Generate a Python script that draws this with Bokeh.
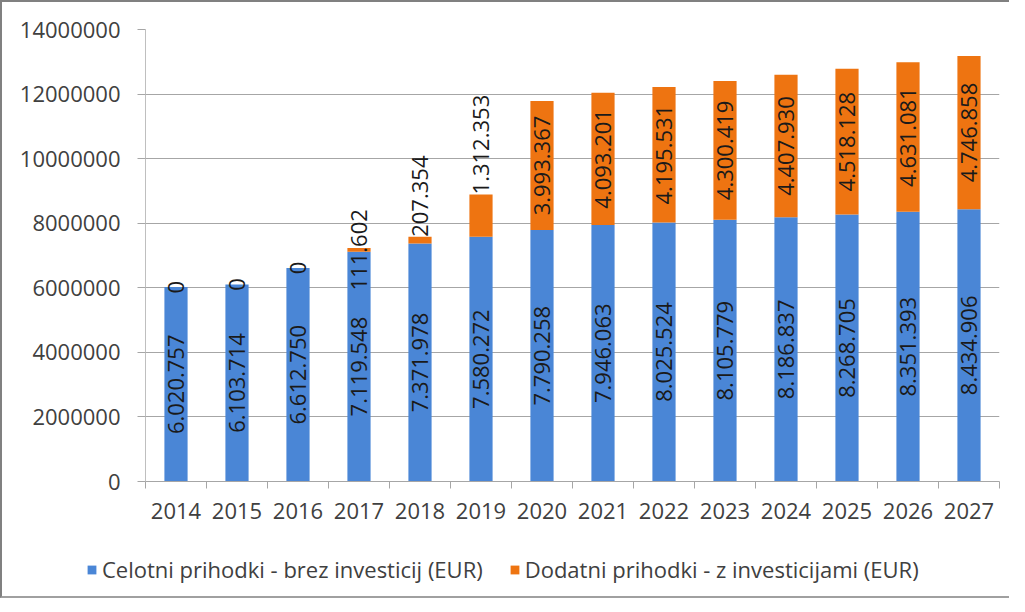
import math
from bokeh.plotting import figure
from bokeh.layouts import column
from bokeh.models import (Range1d, FixedTicker, SingleIntervalTicker, Legend, LegendItem,
                          ColumnDataSource, NumeralTickFormatter)
from bokeh.core.properties import value
from bokeh.embed import file_html
from bokeh.resources import INLINE

# ---- data ----
years = ["2014", "2015", "2016", "2017", "2018", "2019", "2020",
         "2021", "2022", "2023", "2024", "2025", "2026", "2027"]
base = [6020757, 6103714, 6612750, 7119548, 7371978, 7580272, 7790258,
        7946063, 8025524, 8105779, 8186837, 8268705, 8351393, 8434906]
extra = [0, 0, 0, 111602, 207354, 1312353, 3993367,
         4093201, 4195531, 4300419, 4407930, 4518128, 4631081, 4746858]
series_names = ["Celotni prihodki - brez investicij (EUR)",
                "Dodatni prihodki - z investicijami (EUR)"]

BLUE = "#4A86D6"
ORANGE = "#EE7411"
FONT = "Open Sans"
YMAX = 14000000

def fmt(v):
    return f"{v:,}".replace(",", ".")

xs = list(range(len(years)))
src = ColumnDataSource(dict(x=xs, base=base, extra=extra))

p = figure(width=1007, height=534, x_range=Range1d(-0.5, len(years) - 0.5),
           y_range=Range1d(0, YMAX), output_backend="svg", toolbar_location=None,
           min_border_left=143, min_border_right=10, min_border_top=27,
           min_border_bottom=55)
p.frame_align = False
p.outline_line_color = None
p.background_fill_color = "white"
p.border_fill_color = "white"

r = p.vbar_stack(["base", "extra"], x="x", width=0.38, color=[BLUE, ORANGE],
                 line_color=None, source=src)

# axes
p.xgrid.visible = False
p.xaxis.ticker = FixedTicker(ticks=xs, minor_ticks=[i - 0.5 for i in range(len(years) + 1)])
p.xaxis.major_label_overrides = {i: y for i, y in enumerate(years)}
p.xaxis.major_tick_out = 0
p.xaxis.major_tick_in = 0
p.xaxis.minor_tick_out = 7
p.xaxis.minor_tick_in = 0
p.xaxis.minor_tick_line_color = "#A6A6A6"
p.xaxis.axis_line_color = "#A6A6A6"
p.xaxis.major_label_standoff = 14
p.xaxis.major_label_text_font = FONT
p.xaxis.major_label_text_font_size = "22px"
p.xaxis.major_label_text_color = "#404040"

p.yaxis.ticker = SingleIntervalTicker(interval=2000000, num_minor_ticks=0)
p.yaxis.formatter = NumeralTickFormatter(format="0")
p.yaxis.major_tick_out = 8
p.yaxis.major_tick_in = 0
p.yaxis.minor_tick_line_color = None
p.yaxis.major_tick_line_color = "#A6A6A6"
p.yaxis.axis_line_color = "#BFBFBF"
p.yaxis.major_label_standoff = 17
p.yaxis.major_label_text_font = FONT
p.yaxis.major_label_text_font_size = "22px"
p.yaxis.major_label_text_color = "#404040"
p.ygrid.grid_line_color = "#A6A6A6"

# data labels
px_per_unit = 452.0 / YMAX
lx, ly, lt = [], [], []
ax, ay, at = [], [], []
for i in xs:
    lx.append(i); ly.append(base[i] / 2); lt.append(fmt(base[i]))
    txt = fmt(extra[i])
    seg_px = extra[i] * px_per_unit
    label_px = len(txt) * 11
    if seg_px >= label_px or seg_px < 5:
        lx.append(i); ly.append(base[i] + extra[i] / 2); lt.append(txt)
    else:
        ax.append(i); ay.append(base[i] + extra[i]); at.append(txt)

p.text(x=lx, y=ly, text=lt, angle=math.pi / 2, text_align="center",
       text_baseline="middle", text_font=value(FONT), text_font_size="22px",
       text_color="#1A1A1A")
p.text(x=ax, y=ay, text=at, angle=math.pi / 2, text_align="left",
       text_baseline="middle", text_font=value(FONT), text_font_size="22px",
       text_color="#1A1A1A")

# legend strip (separate figure so the legend sits below the axis)
leg = figure(width=1007, height=60, x_range=Range1d(0, 1), y_range=Range1d(0, 1),
             output_backend="svg", toolbar_location=None,
             min_border=0, min_border_left=0, min_border_right=0,
             min_border_top=0, min_border_bottom=0)
leg.frame_align = False
leg.axis.visible = False
leg.grid.visible = False
leg.outline_line_color = None
leg.border_fill_color = "white"
# legend proxies (kept outside the visible range of the strip)
lr0 = leg.vbar(x=[5], top=[1], width=0.1, color=BLUE, line_color=None)
lr1 = leg.vbar(x=[5], top=[1], width=0.1, color=ORANGE, line_color=None)
legend = Legend(items=[LegendItem(label=series_names[0], renderers=[lr0]),
                       LegendItem(label=series_names[1], renderers=[lr1])],
                orientation="horizontal", location=(84, 12))
legend.label_text_font = FONT
legend.label_text_font_size = "22px"
legend.label_text_color = "#404040"
legend.glyph_width = 11
legend.glyph_height = 11
legend.label_standoff = 5
legend.spacing = 26
legend.border_line_color = None
legend.background_fill_alpha = 0
legend.margin = 0
legend.padding = 4
leg.add_layout(legend)

layout = column(p, leg, spacing=0,
                styles={"border-left": "2px solid #808080", "border-top": "2px solid #808080",
                        "border-bottom": "2px solid #A0A0A0"})

open("out.html", "w").write(file_html(layout, INLINE))
